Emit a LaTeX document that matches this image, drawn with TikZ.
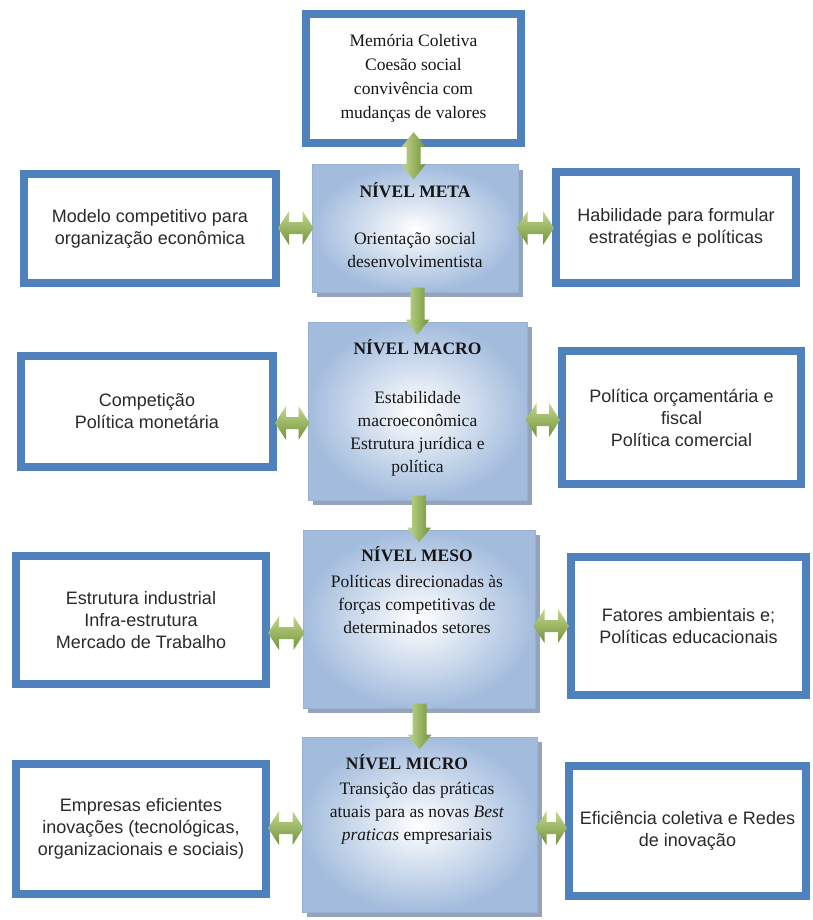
\documentclass[tikz,border=0pt]{standalone}
\usepackage{fontspec}
\setmainfont{Liberation Serif}
\setsansfont{Liberation Sans}
\usetikzlibrary{calc,shadows}
\definecolor{bordblue}{HTML}{4F81BD}
\definecolor{cblue}{HTML}{A3BCDD}
\definecolor{cline}{HTML}{9AB2D2}
\definecolor{shadowc}{HTML}{8A9BB3}
\definecolor{glight}{HTML}{C2D88E}
\definecolor{gdark}{HTML}{73923A}
\definecolor{sidetext}{HTML}{2A2A2A}
\definecolor{sertext}{HTML}{161616}
\newcommand\harr[3]{%
  \shade[top color=glight, bottom color=gdark] let \p1=(#1.east), \p2=(#2.west), \p3=(0,#3) in
   (\x1-2pt,\y3) -- (\x1+9pt,\y3+17pt) -- (\x1+9pt,\y3+6pt) -- (\x2-9pt,\y3+6pt) -- (\x2-9pt,\y3+17pt)
   -- (\x2+2pt,\y3) -- (\x2-9pt,\y3-17pt) -- (\x2-9pt,\y3-6pt) -- (\x1+9pt,\y3-6pt) -- (\x1+9pt,\y3-17pt) -- cycle;}
\newcommand\varr[2]{%
  \shade[left color=glight, right color=gdark] let \p1=(#1.south), \p2=(#2.north), \n1={\y2-13pt}, \n2={\y2+2pt} in
   (\x2-7pt,\y1+5pt) -- (\x2+7pt,\y1+5pt) -- (\x2+7pt,\n2) -- (\x2+12pt,\n2) -- (\x2,\n1)
   -- (\x2-12pt,\n2) -- (\x2-7pt,\n2) -- cycle;}
\newcommand\vdarr[2]{%
  \shade[left color=glight, right color=gdark] let \p1=(#1.south), \p2=(#2.north), \n1={\y2-15pt}, \n2={\y2}, \n3={\y1+15pt}, \n4={\y1} in
   (\x1,\n3) -- (\x1+12pt,\n4) -- (\x1+7pt,\n4) -- (\x1+7pt,\n2) -- (\x1+12pt,\n2) -- (\x1,\n1)
   -- (\x1-12pt,\n2) -- (\x1-7pt,\n2) -- (\x1-7pt,\n4) -- (\x1-12pt,\n4) -- cycle;}
\begin{document}
\begin{tikzpicture}[x=1pt,y=-1pt,
  sidebox/.style={draw=bordblue, line width=8pt, fill=white, inner sep=0pt, align=center,
    font=\sffamily\fontsize{18}{22}\selectfont, text=sidetext},
  serbox/.style={draw=bordblue, line width=8pt, fill=white, inner sep=0pt, align=center,
    font=\fontsize{17.5}{24}\selectfont, text=sertext},
  levelbox/.style={draw=cline, line width=1pt, inner color=white, outer color=cblue, inner sep=0pt,
    drop shadow={shadow xshift=5pt, shadow yshift=-5pt, fill=shadowc, opacity=0.9}},
  leveltext/.style={anchor=north, inner sep=0pt, align=center, font=\fontsize{17.5}{23}\selectfont, text=sertext}]
\useasboundingbox (0,0) rectangle (813,920);
\fill[white] (0,0) rectangle (813,920);

% central column
\node[serbox, minimum width=215pt, minimum height=129pt] (topb) at (413.5,78.5)
  {Memória Coletiva\\Coesão social\\convivência com\\mudanças de valores};
\node[levelbox, minimum width=206pt, minimum height=127pt] (meta) at (415,228.5) {};
\node[levelbox, minimum width=219pt, minimum height=178pt] (macro) at (417.5,411) {};
\node[levelbox, minimum width=232pt, minimum height=178pt] (meso) at (419,619) {};
\node[levelbox, minimum width=235pt, minimum height=175pt] (micro) at (419.5,824.5) {};

\node[leveltext] (metaT) at (415,182) {\textbf{NÍVEL META}\\[24pt]Orientação social\\desenvolvimentista};
\node[leveltext] (macroT) at (417.5,339) {\textbf{NÍVEL MACRO}\\[26pt]Estabilidade\\macroeconômica\\Estrutura jurídica e\\política};
\node[leveltext] (mesoT) at (417,546) {\textbf{NÍVEL MESO}\\[3pt]Políticas direcionadas às\\forças competitivas de\\determinados setores};
\node[leveltext] (microT) at (417,754) {\hspace*{-20pt}\textbf{NÍVEL MICRO}\\[2pt]Transição das práticas\\atuais para as novas \textit{Best}\\\textit{praticas} empresariais};

% side boxes
\node[sidebox, minimum width=252pt, minimum height=109pt] (lmeta) at (150,228.5)
  {Modelo competitivo para\\organização econômica};
\node[sidebox, minimum width=240pt, minimum height=111pt] (rmeta) at (676,227.5)
  {Habilidade para formular\\estratégias e políticas};
\node[sidebox, minimum width=252pt, minimum height=111pt] (lmacro) at (147,411.5)
  {Competição\\Política monetária};
\node[sidebox, minimum width=239pt, minimum height=133pt] (rmacro) at (681.5,417.5)
  {Política orçamentária e\\fiscal\\Política comercial};
\node[sidebox, minimum width=250pt, minimum height=128pt] (lmeso) at (141,620)
  {Estrutura industrial\\Infra-estrutura\\Mercado de Trabalho};
\node[sidebox, minimum width=235pt, minimum height=138pt] (rmeso) at (688.5,626)
  {Fatores ambientais e;\\Políticas educacionais};
\node[sidebox, minimum width=250pt, minimum height=130pt] (lmicro) at (141,829)
  {Empresas eficientes\\inovações (tecnológicas,\\organizacionais e sociais)};
\node[sidebox, minimum width=237pt, minimum height=130pt] (rmicro) at (687.5,831)
  {Eficiência coletiva e Redes\\de inovação};

% arrows
\vdarr{topb}{meta}
\varr{meta}{macro}
\varr{macro}{meso}
\varr{meso}{micro}
\harr{lmeta}{meta}{228}
\harr{meta}{rmeta}{228}
\harr{lmacro}{macro}{423}
\harr{macro}{rmacro}{420}
\harr{lmeso}{meso}{633}
\harr{meso}{rmeso}{626}
\harr{lmicro}{micro}{828}
\harr{micro}{rmicro}{828}
\end{tikzpicture}
\end{document}
